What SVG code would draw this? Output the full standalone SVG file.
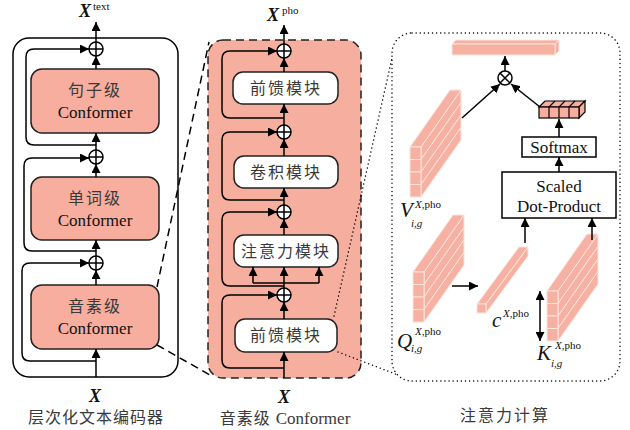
<svg xmlns="http://www.w3.org/2000/svg" xmlns:xlink="http://www.w3.org/1999/xlink" width="630" height="430" viewBox="0 0 630 430">
<style>
.ln{fill:none;stroke:#000;stroke-width:1.5}
.ar{fill:none;stroke:#000;stroke-width:1.5;marker-end:url(#ah)}
.box{fill:#F7AE9F;stroke:#222;stroke-width:1.5}
.wbox{fill:#fff;stroke:#222;stroke-width:1.5}
.cn{font-family:'Liberation Serif','Noto Sans CJK SC',serif;font-size:16px;fill:#3a3a3a;text-anchor:middle;letter-spacing:2px}
.en{font-family:'Liberation Serif',serif;font-size:17px;fill:#111;text-anchor:middle}
.mx{font-family:'Liberation Serif',serif;font-style:italic;font-weight:bold;font-size:18px;fill:#111}
.sup{font-family:'Liberation Serif',serif;font-size:11px;fill:#111}
.mi{font-family:'Liberation Serif',serif;font-style:italic;fill:#111}
.bar{fill:#F7B1A3;stroke:#FBE4DD;stroke-width:1}
.dash{fill:none;stroke:#000;stroke-width:1.5;stroke-dasharray:8 5}
.dot{fill:none;stroke:#000;stroke-width:1.4;stroke-dasharray:0.1 4;stroke-linecap:round}
</style>
<defs>
<marker id="ah" viewBox="0 0 10 10" refX="10" refY="5" markerWidth="9" markerHeight="9" markerUnits="userSpaceOnUse" orient="auto-start-reverse">
<path d="M0,0 L10,5 L0,10 z" fill="#000"/>
</marker>
<g id="plus">
<circle cx="0" cy="0" r="7" fill="#fff" stroke="#000" stroke-width="1.5"/>
<path d="M-7,0 H7 M0,-7 V7" stroke="#000" stroke-width="1.5"/>
</g>
<g id="stack">
<polygon class="bar" points="11,0 51,-57 51,-44.5 11,12.5"/>
<polygon class="bar" points="11,12.5 51,-44.5 51,-32 11,25"/>
<polygon class="bar" points="11,25 51,-32 51,-19.5 11,37.5"/>
<polygon class="bar" points="11,37.5 51,-19.5 51,-7 11,50"/>
<polygon class="bar" points="0,0 40,-57 51,-57 11,0"/>
<rect class="bar" x="0" y="0" width="11" height="12.5"/>
<rect class="bar" x="0" y="12.5" width="11" height="12.5"/>
<rect class="bar" x="0" y="25" width="11" height="12.5"/>
<rect class="bar" x="0" y="37.5" width="11" height="12.5"/>
</g>
</defs>

<!-- Left panel: hierarchical text encoder -->
<g id="left-panel">
<rect x="13" y="38" width="165" height="339" rx="16" class="ln"/>
</g>
<g id="box-sentence">
<rect x="31" y="69" width="128" height="64" rx="11" class="box"/>
<text x="95" y="96" class="cn">句子级</text>
<text x="95" y="118" class="en">Conformer</text>
</g>
<g id="box-word">
<rect x="31" y="177" width="128" height="63" rx="11" class="box"/>
<text x="95" y="204" class="cn">单词级</text>
<text x="95" y="226" class="en">Conformer</text>
</g>
<g id="box-phone">
<rect x="31" y="285" width="128" height="64" rx="11" class="box"/>
<text x="95" y="312" class="cn">音素级</text>
<text x="95" y="334" class="en">Conformer</text>
</g>
<g id="left-plus">
<use xlink:href="#plus" x="96" y="49"/>
<use xlink:href="#plus" x="96" y="157"/>
<use xlink:href="#plus" x="96" y="263"/>
</g>
<g id="left-connectors">
<line x1="96" y1="377" x2="96" y2="349" class="ar"/>
<line x1="96" y1="285" x2="96" y2="270" class="ar"/>
<line x1="96" y1="256" x2="96" y2="240" class="ar"/>
<line x1="96" y1="177" x2="96" y2="164" class="ar"/>
<line x1="96" y1="150" x2="96" y2="133" class="ar"/>
<line x1="96" y1="69" x2="96" y2="56" class="ar"/>
<line x1="96" y1="42" x2="96" y2="22" class="ar"/>
<path d="M96,145 H34 Q26,145 26,137 V57 Q26,49 34,49 H89" class="ar"/>
<path d="M96,251 H32 Q24,251 24,243 V166 Q24,158 32,158 H89" class="ar"/>
<path d="M96,361 H30 Q22,361 22,353 V271 Q22,263 30,263 H89" class="ar"/>
</g>
<g id="left-labels">
<text x="79" y="17" class="mx">X</text>
<text x="93" y="10" class="sup">text</text>
<text x="89" y="402" class="mx">X</text>
<text x="96" y="423" class="cn" style="letter-spacing:1px">层次化文本编码器</text>
</g>

<!-- Middle panel: phone-level conformer -->
<g id="mid-panel">
<rect x="208" y="40" width="153" height="338" rx="15" fill="#F6AE9F" stroke="#222" stroke-width="1.5" stroke-dasharray="8 5"/>
</g>
<g id="mid-ff1">
<rect x="233" y="72" width="105" height="32" rx="10" class="wbox"/>
<text x="286" y="94" class="cn">前馈模块</text>
</g>
<g id="mid-conv">
<rect x="234" y="156" width="104" height="32" rx="10" class="wbox"/>
<text x="286" y="178" class="cn">卷积模块</text>
</g>
<g id="mid-att">
<rect x="234" y="235" width="104" height="32" rx="10" class="wbox"/>
<text x="286" y="257" class="cn">注意力模块</text>
</g>
<g id="mid-ff2">
<rect x="235" y="319" width="102" height="33" rx="10" class="wbox"/>
<text x="286" y="341" class="cn">前馈模块</text>
</g>
<g id="mid-plus">
<use xlink:href="#plus" x="284" y="51"/>
<use xlink:href="#plus" x="284" y="132"/>
<use xlink:href="#plus" x="284" y="212"/>
<use xlink:href="#plus" x="284" y="295"/>
</g>
<g id="mid-connectors">
<line x1="284" y1="378" x2="284" y2="352" class="ar"/>
<line x1="284" y1="319" x2="284" y2="302" class="ar"/>
<path d="M284,288 V283 M253,283 H319" class="ln"/>
<line x1="253" y1="283" x2="253" y2="267" class="ar"/>
<line x1="284" y1="283" x2="284" y2="267" class="ar"/>
<line x1="319" y1="283" x2="319" y2="267" class="ar"/>
<line x1="284" y1="235" x2="284" y2="219" class="ar"/>
<line x1="284" y1="205" x2="284" y2="188" class="ar"/>
<line x1="284" y1="156" x2="284" y2="139" class="ar"/>
<line x1="284" y1="125" x2="284" y2="104" class="ar"/>
<line x1="284" y1="72" x2="284" y2="58" class="ar"/>
<line x1="284" y1="44" x2="284" y2="25" class="ar"/>
<path d="M284,118 H230 Q222,118 222,110 V59 Q222,51 230,51 H277" class="ar"/>
<path d="M284,200 H230 Q222,200 222,192 V140 Q222,132 230,132 H277" class="ar"/>
<path d="M284,286 H230 Q222,286 222,278 V220 Q222,212 230,212 H277" class="ar"/>
<path d="M284,368 H230 Q222,368 222,360 V303 Q222,295 230,295 H277" class="ar"/>
</g>
<g id="mid-labels">
<text x="267" y="21" class="mx">X</text>
<text x="282" y="14" class="sup">pho</text>
<text x="278" y="403" class="mx">X</text>
<text x="285" y="424" class="cn" style="letter-spacing:1px">音素级 <tspan style="font-family:'Liberation Serif',serif;font-size:17px;letter-spacing:0">Conformer</tspan></text>
</g>

<!-- Zoom connectors -->
<g id="zoom-connectors">
<line x1="157" y1="287" x2="209" y2="42" class="dash"/>
<line x1="157" y1="345" x2="210" y2="375" class="dash"/>
<line x1="334" y1="316" x2="392" y2="58" class="dot"/>
<line x1="338" y1="352" x2="398" y2="375" class="dot"/>
</g>

<!-- Right panel: attention computation -->
<g id="right-panel">
<rect x="392" y="33" width="228" height="348" rx="20" class="dot"/>
</g>
<g id="out-bar">
<polygon class="bar" points="452,44 456,40 559,40 555,44"/>
<polygon class="bar" points="555,44 559,40 559,51 555,55"/>
<rect class="bar" x="452" y="44" width="103" height="11"/>
</g>
<g id="otimes">
<circle cx="505" cy="78" r="7" fill="#fff" stroke="#000" stroke-width="1.5"/>
<path d="M500,73 L510,83 M510,73 L500,83" stroke="#000" stroke-width="1.5"/>
</g>
<g id="softmax-out">
<polygon points="539,107 545,101 585,101 579,107" fill="#F7AE9F" stroke="#000" stroke-width="1.2"/>
<polygon points="579,107 585,101 585,112 579,118" fill="#F7AE9F" stroke="#000" stroke-width="1.2"/>
<rect x="539" y="107" width="40" height="11" fill="#F7AE9F" stroke="#000" stroke-width="1.2"/>
<path d="M549,107 V118 M559,107 V118 M569,107 V118 M549,107 L555,101 M559,107 L565,101 M569,107 L575,101" stroke="#000" stroke-width="1.2"/>
</g>
<g id="softmax">
<rect x="522" y="137" width="74" height="20" fill="#fff" stroke="#000" stroke-width="1.5"/>
<text x="559" y="153" class="en">Softmax</text>
</g>
<g id="dot-product">
<rect x="502" y="172" width="114" height="46" fill="#fff" stroke="#000" stroke-width="1.5"/>
<text x="559" y="192" class="en">Scaled</text>
<text x="559" y="212" class="en">Dot-Product</text>
</g>
<g id="V">
<use xlink:href="#stack" x="410" y="147"/>
<text x="400" y="217" class="mi" font-size="21">V</text>
<text x="415" y="208" class="sup"><tspan font-style="italic">X</tspan>,pho</text>
<text x="411" y="227" class="mi" font-size="11">i,g</text>
</g>
<g id="Q">
<use xlink:href="#stack" x="413" y="272"/>
<text x="397" y="348" class="mi" font-size="21">Q</text>
<text x="415" y="335" class="sup"><tspan font-style="italic">X</tspan>,pho</text>
<text x="411" y="352" class="mi" font-size="11">i,g</text>
</g>
<g id="c">
<polygon class="bar" points="486,304 528,247 528,256 486,313"/>
<polygon class="bar" points="477,304 519,247 528,247 486,304"/>
<rect class="bar" x="477" y="304" width="9" height="9"/>
<text x="492" y="327" class="mi" font-size="21">c</text>
<text x="503" y="317" class="sup"><tspan font-style="italic">X</tspan>,pho</text>
</g>
<g id="K">
<use xlink:href="#stack" x="547" y="291"/>
<text x="537" y="360" class="mi" font-size="21">K</text>
<text x="555" y="349" class="sup"><tspan font-style="italic">X</tspan>,pho</text>
<text x="551" y="367" class="mi" font-size="11">i,g</text>
</g>
<g id="right-connectors">
<line x1="462" y1="118" x2="500" y2="84" class="ar"/>
<line x1="540" y1="107" x2="511" y2="84" class="ar"/>
<line x1="505" y1="71" x2="505" y2="56" class="ar"/>
<line x1="559" y1="137" x2="559" y2="119" class="ar"/>
<line x1="559" y1="172" x2="559" y2="157" class="ar"/>
<line x1="525" y1="243" x2="525" y2="218" class="ar"/>
<line x1="592" y1="240" x2="592" y2="218" class="ar"/>
<line x1="452" y1="286" x2="478" y2="286" class="ar"/>
<line x1="540" y1="291" x2="540" y2="341" style="fill:none;stroke:#000;stroke-width:1.5;marker-start:url(#ah);marker-end:url(#ah)"/>
</g>
<g id="right-labels">
<text x="505" y="421" class="cn" style="letter-spacing:2px">注意力计算</text>
</g>
</svg>
